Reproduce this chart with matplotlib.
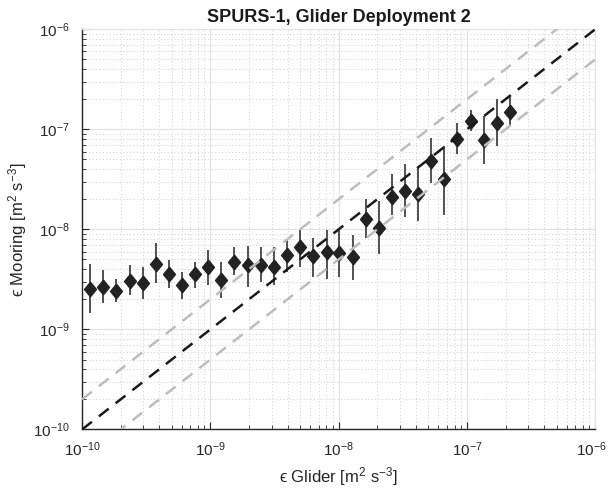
import numpy as np
import matplotlib
matplotlib.use('Agg')
import matplotlib.pyplot as plt
import matplotlib.transforms as mtransforms

plt.rcParams['font.family'] = ['Liberation Sans', 'DejaVu Sans']
plt.rcParams['mathtext.fontset'] = 'custom'
plt.rcParams['mathtext.rm'] = 'Liberation Sans'
plt.rcParams['mathtext.it'] = 'Liberation Sans:italic'
plt.rcParams['mathtext.default'] = 'regular'
plt.rcParams['mathtext.fallback'] = 'stixsans'

# glider bin centres and mooring mean with error range
eps_glider = [1.15e-10, 1.46e-10, 1.85e-10, 2.35e-10, 2.97e-10, 3.77e-10, 4.73e-10,
              6.01e-10, 7.59e-10, 9.53e-10, 1.22e-9, 1.53e-9, 1.95e-9, 2.48e-9,
              3.11e-9, 3.95e-9, 4.99e-9, 6.34e-9, 8.05e-9, 1.01e-8, 1.29e-8,
              1.63e-8, 2.07e-8, 2.60e-8, 3.29e-8, 4.17e-8, 5.24e-8, 6.65e-8,
              8.35e-8, 1.07e-7, 1.36e-7, 1.71e-7, 2.18e-7]
eps_mooring = [2.53e-9, 2.65e-9, 2.43e-9, 3.06e-9, 2.88e-9, 4.50e-9, 3.55e-9,
               2.77e-9, 3.55e-9, 4.17e-9, 3.11e-9, 4.74e-9, 4.40e-9, 4.40e-9,
               4.23e-9, 5.53e-9, 6.70e-9, 5.41e-9, 5.97e-9, 5.83e-9, 5.32e-9,
               1.26e-8, 1.02e-8, 2.12e-8, 2.43e-8, 2.25e-8, 4.85e-8, 3.16e-8,
               7.94e-8, 1.21e-7, 7.76e-8, 1.16e-7, 1.50e-7]
mooring_lo = [1.46e-9, 1.83e-9, 1.87e-9, 2.20e-9, 2.01e-9, 2.90e-9, 2.59e-9,
              2.01e-9, 2.59e-9, 2.77e-9, 2.04e-9, 3.49e-9, 2.67e-9, 2.99e-9,
              2.77e-9, 3.77e-9, 4.23e-9, 3.36e-9, 3.18e-9, 3.36e-9, 3.11e-9,
              8.18e-9, 5.66e-9, 1.39e-8, 1.33e-8, 1.22e-8, 2.88e-8, 1.39e-8,
              5.66e-8, 9.70e-8, 4.47e-8, 6.80e-8, 1.10e-7]
mooring_hi = [4.50e-9, 3.92e-9, 3.18e-9, 4.40e-9, 4.20e-9, 7.30e-9, 4.93e-9,
              3.74e-9, 4.71e-9, 6.21e-9, 4.74e-9, 6.65e-9, 6.81e-9, 6.65e-9,
              6.65e-9, 8.00e-9, 9.84e-9, 8.18e-9, 9.84e-9, 1.00e-8, 8.77e-9,
              2.01e-8, 1.93e-8, 3.57e-8, 4.50e-8, 4.20e-8, 8.24e-8, 6.81e-8,
              1.15e-7, 1.56e-7, 1.36e-7, 2.00e-7, 2.09e-7]

x = np.array(eps_glider)
y = np.array(eps_mooring)
yerr = [y - np.array(mooring_lo), np.array(mooring_hi) - y]

# slightly tall diamond, like matlab's
diamond = [(0, 1), (0.82, 0), (0, -1), (-0.82, 0), (0, 1)]

fig = plt.figure(figsize=(6.08, 4.88), dpi=100)
ax = fig.add_axes([0.135, 0.12, 0.844, 0.82])

ax.errorbar(x, y, yerr=yerr, fmt='none', ecolor='#333333',
            elinewidth=1.2, capsize=0, zorder=3)
ax.plot(x, y, ls='none', marker=diamond, ms=10.5, color='#222222', zorder=3)

ref = np.array([1e-10, 1e-6])
ax.plot(ref, ref, '--', color='#1a1a1a', lw=1.8, dashes=(5, 3.5), zorder=4)
ax.plot(ref, 2 * ref, '--', color='#bdbdbd', lw=1.8, dashes=(5, 3.5), zorder=4)
ax.plot(ref, ref / 2, '--', color='#bdbdbd', lw=1.8, dashes=(5, 3.5), zorder=4)

ax.set_xscale('log')
ax.set_yscale('log')
ax.set_xlim(1e-10, 1e-6)
ax.set_ylim(1e-10, 1e-6)
ax.set_xticks([1e-10, 1e-9, 1e-8, 1e-7, 1e-6])
ax.set_yticks([1e-10, 1e-9, 1e-8, 1e-7, 1e-6])

ax.grid(True, which='major', color='#e3e3e3', lw=0.9, ls='-')
ax.grid(True, which='minor', color='#cfcfcf', lw=0.7, ls=(0, (1, 2.5)))
ax.set_axisbelow(True)

for s in ['top', 'right']:
    ax.spines[s].set_color('#e3e3e3')
for s in ['left', 'bottom']:
    ax.spines[s].set_color('#262626')
    ax.spines[s].set_linewidth(1.0)

ax.tick_params(which='both', direction='in', top=False, right=False,
               labelsize=11, colors='#262626')
ax.tick_params(which='major', length=5)
ax.tick_params(which='minor', length=3)
ax.tick_params(axis='x', pad=8)
ax.tick_params(axis='y', pad=9)

ax.set_title('SPURS-1, Glider Deployment 2', fontsize=13, fontweight='bold',
             color='#1a1a1a', pad=5)
ax.set_xlabel('\u03f5 Glider [m$^2$ s$^{-3}$]', fontsize=12, color='#262626')
ax.set_ylabel('\u03f5 Mooring [m$^2$ s$^{-3}$]', fontsize=12, color='#262626',
              labelpad=3)

# keep the 1e-6 label inside the figure
fig.canvas.draw()
last = ax.get_xticklabels()[-1]
last.set_transform(last.get_transform() +
                   mtransforms.ScaledTranslation(-4 / 100, 0, fig.dpi_scale_trans))

fig.savefig('out.png', dpi=100)
